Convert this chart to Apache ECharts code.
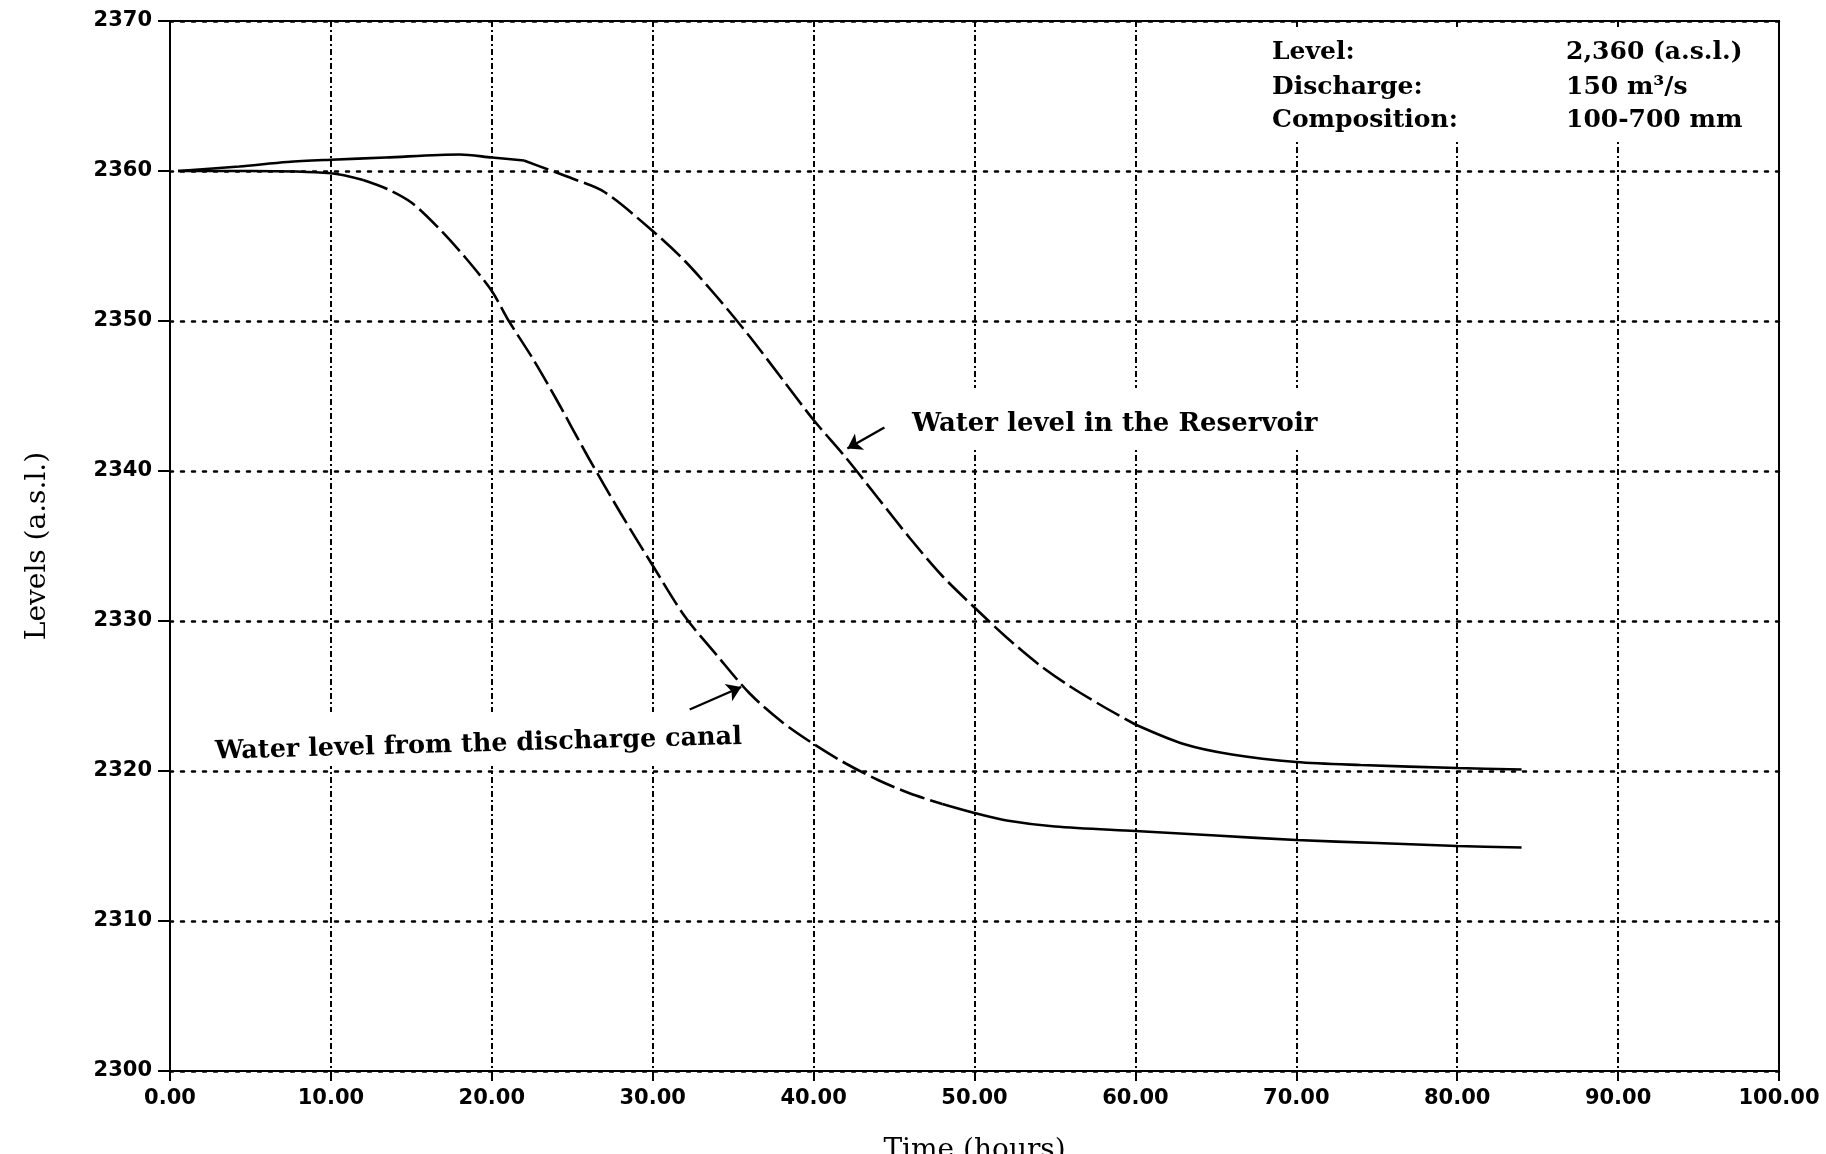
<!DOCTYPE html>
<html>
<head>
<meta charset="utf-8">
<script src="https://cdn.jsdelivr.net/npm/echarts@6/dist/echarts.min.js"></script>
<style>
html,body{margin:0;padding:0;background:#fff;}
#c{width:1826px;height:1154px;}
</style>
</head>
<body>
<div id="c"></div>
<script>
// ---- data ----
const timeTicks = [0,10,20,30,40,50,60,70,80,90,100];
const timeTickLabels = ['0.00','10.00','20.00','30.00','40.00','50.00','60.00','70.00','80.00','90.00','100.00'];
const levelTicks = [2300,2310,2320,2330,2340,2350,2360,2370];
const levelTickLabels = ['2300','2310','2320','2330','2340','2350','2360','2370'];

// Water level in the Reservoir  [time (h), level (m a.s.l.)]
const reservoir = [
  [0.5,2360.0],[4.3,2360.3],[7.3,2360.6],[10,2360.75],[13.4,2360.9],[18,2361.1],
  [20,2360.9],[22,2360.7],[23.5,2360.1],[25,2359.5],[27,2358.6],[30,2356.0],
  [32,2354.0],[34,2351.6],[36,2349.0],[38,2346.2],[40,2343.4],[42,2340.9],
  [44,2338.2],[46,2335.5],[48,2333.0],[50,2330.9],[52,2328.9],[54,2327.1],
  [56,2325.6],[58,2324.3],[60,2323.1],[63,2321.8],[66,2321.1],[70,2320.6],
  [74,2320.4],[80,2320.2],[84,2320.1]
];
// Water level from the discharge canal
const canal = [
  [0.5,2360.0],[5,2360.0],[10,2359.85],[12,2359.4],[13.5,2358.8],[15,2357.9],
  [16.6,2356.3],[18.3,2354.3],[20,2352.0],[21,2350.1],[22.6,2347.4],[24,2344.8],
  [26,2340.9],[28,2337.2],[30,2333.7],[32,2330.3],[34,2327.7],[36,2325.2],
  [38,2323.3],[40,2321.8],[42,2320.5],[44,2319.4],[46,2318.5],[48,2317.8],
  [50,2317.2],[52,2316.7],[55,2316.3],[60,2316.0],[65,2315.7],[70,2315.4],
  [75,2315.2],[80,2315.0],[84,2314.9]
];
// annotation arrows (data coordinates): [from, to]
const arrowReservoir = [[44.4,2342.9],[42.1,2341.5]];
const arrowCanal = [[32.3,2324.1],[35.5,2325.6]];

const infoLabels = ['Level:','Discharge:','Composition:'];
const infoValues = ['2,360 (a.s.l.)','150 m\u00B3/s','100-700 mm'];

// ---- chart ----
const chart = echarts.init(document.getElementById('c'));
function seg(d,a,b){return d.filter(p=>p[0]>=a && p[0]<=b);}
function lineSeries(data, type, arrow){
  const s = {
    type:'line', data:data, showSymbol:false, symbol:'none', smooth:0.3,
    lineStyle:{color:'#000', width:2.6, type:type}, z:3, silent:true
  };
  if(arrow){
    s.markLine = {
      silent:true, symbol:['none','arrow'], symbolSize:14,
      lineStyle:{color:'#000', width:2.4, type:'solid'},
      label:{show:false},
      data:[[{coord:arrow[0]},{coord:arrow[1]}]]
    };
  }
  return s;
}
const axisFont = {fontFamily:'DejaVu Sans', fontWeight:'bold', fontSize:21, color:'#000'};
const serif = '"DejaVu Serif", "Liberation Serif", serif';

const graphics = [
  {type:'rect', shape:{x:1262,y:30,width:484,height:112}, style:{fill:'#fff'}, z:1, silent:true},
  {type:'rect', shape:{x:905,y:388,width:420,height:62}, style:{fill:'#fff'}, z:1, silent:true},
  {type:'rect', shape:{x:205,y:712,width:545,height:54}, style:{fill:'#fff'}, z:1, silent:true}
];
const infoY = [52,87,120];
infoLabels.forEach((t,i)=>{
  graphics.push({type:'text', x:1272, y:infoY[i], z:10, silent:true,
    style:{text:t, font:'bold 25px '+serif, fill:'#000', align:'left', verticalAlign:'middle'}});
  graphics.push({type:'text', x:1566, y:infoY[i], z:10, silent:true,
    style:{text:infoValues[i], font:'bold 25px '+serif, fill:'#000', align:'left', verticalAlign:'middle'}});
});
graphics.push({type:'text', x:912, y:424, z:10, silent:true,
  style:{text:'Water level in the Reservoir', font:'bold 26px '+serif, fill:'#000', align:'left', verticalAlign:'middle'}});
graphics.push({type:'text', x:215, y:752, rotation:0.028, z:10, silent:true,
  style:{text:'Water level from the discharge canal', font:'bold 25.5px '+serif, fill:'#000', align:'left', verticalAlign:'middle'}});

chart.setOption({
  animation:false,
  backgroundColor:'#fff',
  grid:{left:170, right:47, top:21, bottom:83, outerBoundsMode:'none', containLabel:false,
        show:true, borderColor:'#000', borderWidth:2, backgroundColor:'transparent'},
  xAxis:{
    type:'value', min:0, max:100, interval:10,
    name:'Time (hours)', nameLocation:'middle', nameGap:66,
    nameTextStyle:{fontFamily:serif, fontSize:28, color:'#000'},
    axisLine:{show:true, lineStyle:{color:'#000', width:2}},
    axisTick:{show:true, length:10, lineStyle:{color:'#000', width:2}},
    axisLabel:Object.assign({margin:17, showMinLabel:true, showMaxLabel:true,
      formatter:v=>{const i=timeTicks.indexOf(v); return i>=0?timeTickLabels[i]:'';}}, axisFont),
    splitLine:{show:true, lineStyle:{color:'#000', width:2, type:[6,3,2,3]}}
  },
  yAxis:{
    type:'value', min:2300, max:2370, interval:10,
    name:'Levels (a.s.l.)', nameLocation:'middle', nameGap:118, nameRotate:90,
    nameTextStyle:{fontFamily:serif, fontSize:28, color:'#000'},
    axisLine:{show:true, lineStyle:{color:'#000', width:2}},
    axisTick:{show:true, length:12, lineStyle:{color:'#000', width:2}},
    axisLabel:Object.assign({margin:18, showMinLabel:true, showMaxLabel:true,
      formatter:v=>{const i=levelTicks.indexOf(v); return i>=0?levelTickLabels[i]:'';}}, axisFont),
    splitLine:{show:true, lineStyle:{color:'#000', width:2.5, type:[3,8], cap:'round'}}
  },
  graphic:graphics,
  series:[
    lineSeries(seg(reservoir,0,22),'solid'),
    lineSeries(seg(reservoir,22,60),[26,6],arrowReservoir),
    lineSeries(seg(reservoir,60,100),'solid'),
    lineSeries(seg(canal,0,12),'solid'),
    lineSeries(seg(canal,12,48),[26,6],arrowCanal),
    lineSeries(seg(canal,48,100),'solid')
  ]
});
</script>
</body>
</html>
